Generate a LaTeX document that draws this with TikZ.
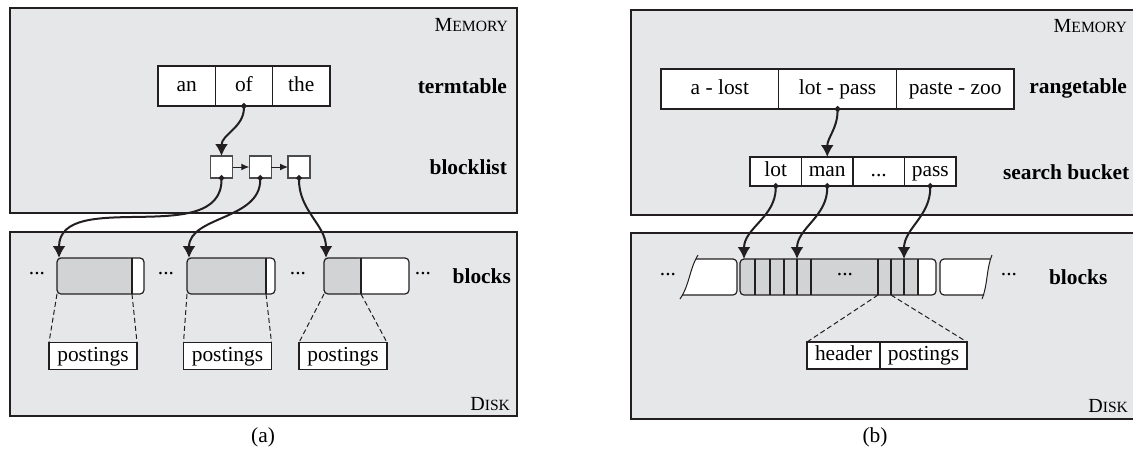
\documentclass[tikz,border=0pt]{standalone}
\usepackage{fontspec}
\setmainfont{Liberation Serif}
\usetikzlibrary{arrows.meta}

\definecolor{memgray}{HTML}{E6E7E9}
\definecolor{blkgray}{HTML}{D2D3D5}
\definecolor{ink}{HTML}{231F20}

\newcommand{\skipped}{...}

\begin{document}
\begin{tikzpicture}[x=0.5pt,y=-0.5pt,
    every node/.style={font=\fontsize{10.7pt}{12pt}\selectfont},
    area/.style={draw=ink, fill=memgray, line width=0.6pt},
    cell/.style={draw=ink, fill=white, line width=0.6pt, inner sep=0pt, outer sep=0pt,
        text height=7.4pt, text depth=2.3pt},
    sq/.style={draw=black!70, fill=white, line width=0.6pt, minimum size=11pt,
        inner sep=0pt, outer sep=0pt},
    blk/.style={draw=ink, fill=white, line width=0.6pt, rounded corners=2pt,
        minimum height=18pt, inner sep=0pt, outer sep=0pt,
        path picture={
            \fill[blkgray] (path picture bounding box.north west)
                rectangle ([xshift=#1]path picture bounding box.south west);
            \draw[ink, line width=0.6pt] ([xshift=#1]path picture bounding box.north west)
                -- ([xshift=#1]path picture bounding box.south west);}},
    ptr/.style={ink, line width=1pt, {Circle[length=2.8pt]}-{Latex[length=6pt,width=6.5pt]},
        shorten <=-1.4pt},
    link/.style={ink, line width=0.5pt, -{Latex[length=4pt,width=3.5pt]}},
    lbl/.style={font=\fontsize{10.7pt}{12pt}\selectfont\bfseries},
    zoom/.style={ink, line width=0.5pt, dash pattern=on 2.5pt off 1.5pt},
    sc/.style={font=\fontsize{10pt}{12pt}\selectfont}]

    \useasboundingbox (0,0) rectangle (1133,456);

    % ---- (a) termtable with block lists ----
    \draw[area] (10,8) rectangle (517,213);
    \draw[area] (10,232) rectangle (517,416);
    \node[sc, anchor=east] (mema) at (515,25) {M{\fontsize{7.8pt}{9pt}\selectfont EMORY}};
    \node[sc, anchor=east] (diska) at (517,404) {D{\fontsize{7.8pt}{9pt}\selectfont ISK}};

    \foreach \w [count=\i] in {an,of,the}
        \node[cell, minimum width=28.65pt, minimum height=20pt] (term\i) at ({158+57.3*(\i-0.5)},86) {\w};
    \node[lbl, anchor=east] (termlbl) at (514,86) {termtable};

    \foreach \i in {1,2,3}
        \node[sq] (bl\i) at ({221.5+38.75*(\i-1)},167) {};
    \draw[link] (bl1) -- (bl2);
    \draw[link] (bl2) -- (bl3);
    \node[lbl, anchor=east] (bllbl) at (514,167) {blocklist};

    \foreach \n/\cx/\w/\g/\px in {1/100.5/43.5pt/37.5pt/93, 2/231/44pt/39.5pt/227.5, 3/366.5/42.5pt/18.5pt/343} {
        \node[blk=\g, minimum width=\w] (blk\n) at (\cx,276) {};
        \node[cell, minimum width=44pt, minimum height=13.5pt] (post\n) at (\px,356) {postings};
        \draw[zoom] (blk\n.south west) -- (post\n.north west);
        \draw[zoom] ([xshift=\g]blk\n.south west) -- (post\n.north east);
    }
    \foreach \x [count=\k] in {37,166,298,423}
        \node (dota\k) at (\x,274) {\skipped};
    \node[lbl, anchor=east] (blkalbl) at (518,276) {blocks};

    \draw[ptr] (term2.south) to[out=-90,in=90] (bl1.north);
    \foreach \i in {1,2,3}
        \draw[ptr] (bl\i.south) to[out=-90,in=90] ([xshift=1pt]blk\i.north west);

    \node (capa) at (263,437) {(a)};

    % ---- (b) rangetable with search buckets ----
    \draw[area] (631,10) rectangle (1137,215);
    \draw[area] (631,233) rectangle (1137,419);
    \node[sc, anchor=east] (memb) at (1134,26) {M{\fontsize{7.8pt}{9pt}\selectfont EMORY}};
    \node[sc, anchor=east] (diskb) at (1135,406) {D{\fontsize{7.8pt}{9pt}\selectfont ISK}};

    \foreach \w [count=\i] in {a - lost,lot - pass,paste - zoo}
        \node[cell, minimum width=58.8pt, minimum height=20pt] (rng\i) at ({661+117.7*(\i-0.5)},89) {\w};
    \node[lbl, anchor=east] (rnglbl) at (1134,88) {rangetable};

    \foreach \w [count=\i] in {lot,man,\skipped,pass}
        \node[cell, minimum width=25.75pt, minimum height=14.5pt] (bk\i) at ({750+51.5*(\i-0.5)},171.5) {\w};
    \node[lbl, anchor=west] (bklbl) at (996,172) {search bucket};

    % neighbouring blocks, cut off
    \fill[white] (696,259) -- (737,259) -- (737,295) -- (682,295)
        .. controls (688,284) and (691,270) .. (696,259);
    \draw[ink, line width=0.6pt, rounded corners=2pt] (696,259) -- (737,259) -- (737,295) -- (682,295);
    \draw[ink, line width=0.5pt] (698,255) .. controls (689,270) and (690,284) .. (680,299);
    \fill[white] (990,259) -- (940,259) -- (940,295) -- (984,295)
        .. controls (987,284) and (986,270) .. (990,259);
    \draw[ink, line width=0.6pt, rounded corners=2pt] (990,259) -- (940,259) -- (940,295) -- (984,295);
    \draw[ink, line width=0.5pt] (992,255) .. controls (986,270) and (988,284) .. (982,299);

    \node[blk=89pt, minimum width=98pt] (blkb) at (838,277) {};
    \foreach \x [count=\k] in {755,770,784,797,811,878,891,904}
        \draw[ink, line width=0.6pt] (\x,259) coordinate (v\k) -- (\x,295) coordinate (w\k);
    \node (dotb) at (845,275) {\skipped};
    \node (dotl) at (668,275) {\skipped};
    \node (dotr) at (1009,275) {\skipped};
    \node[lbl, anchor=west] (blkblbl) at (1042,277) {blocks};

    \node[cell, minimum width=36.5pt, minimum height=13.5pt] (hdr) at (843.5,355.5) {header};
    \node[cell, minimum width=43.5pt, minimum height=13.5pt] (postb) at (923.5,355.5) {postings};
    \draw[zoom] (w6) -- (hdr.north west);
    \draw[zoom] (w7) -- (postb.north east);

    \draw[ptr] (rng2.south) to[out=-90,in=90] (bk2.north);
    \draw[ptr] (bk1.south) to[out=-90,in=90] ([xshift=2pt]blkb.north west);
    \draw[ptr] (bk2.south) to[out=-90,in=90] (v4);
    \draw[ptr] (bk4.south) to[out=-90,in=90] (v8);

    \node (capb) at (875,437) {(b)};
\end{tikzpicture}
\end{document}
